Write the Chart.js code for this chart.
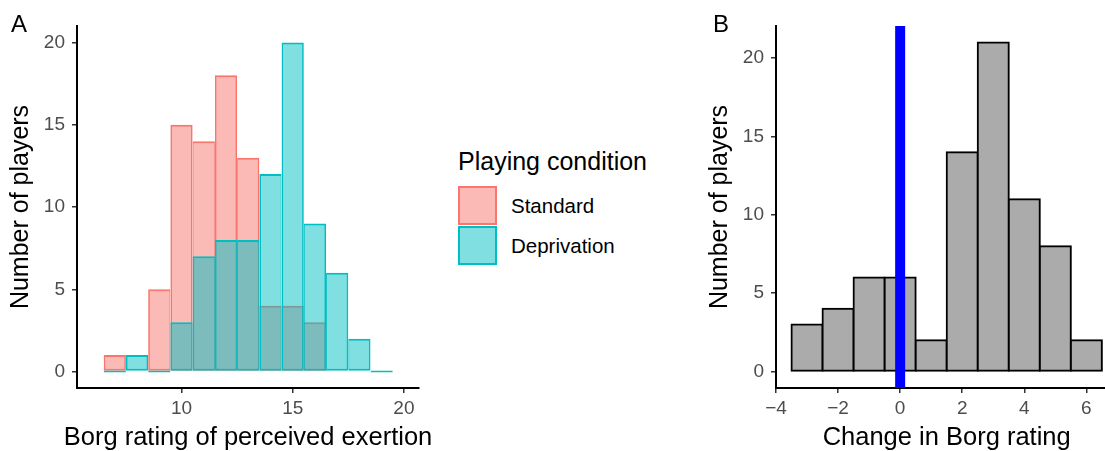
<!DOCTYPE html>
<html><head><meta charset="utf-8">
<script src="https://cdn.jsdelivr.net/npm/chart.js@4.4.1/dist/chart.umd.min.js"></script>
<style>
html,body{margin:0;padding:0;overflow:hidden;background:#fff;width:1105px;height:451px;}
body{position:relative;font-family:'Liberation Sans',Arial,Helvetica,sans-serif;}
canvas{position:absolute;top:0;}
#cA{left:0;}
#cB{left:700px;}
.lbl{position:absolute;white-space:nowrap;color:#000;}
.key{position:absolute;box-sizing:border-box;border:2px solid;}
</style></head><body>
<canvas id="cA" width="440" height="451" style="width:440px;height:451px"></canvas>
<canvas id="cB" width="430" height="451" style="width:430px;height:451px"></canvas>
<div class="lbl" style="left:11px;top:10px;font-size:24px;line-height:28px">A</div>
<div class="lbl" style="left:713px;top:10px;font-size:24px;line-height:28px">B</div>
<div id="legend"></div>
<script>
// ---- Data ----
const borgBins = [7, 8, 9, 10, 11, 12, 13, 14, 15, 16, 17, 18, 19];
const standardCounts = [1, 0, 5, 15, 14, 18, 13, 4, 4, 3, 0, 0, 0];
const deprivationCounts = [0, 1, 0, 3, 7, 8, 8, 12, 20, 9, 6, 2, 0];
const seriesNames = ['Standard', 'Deprivation'];
const legendTitle = 'Playing condition';
const changeBins = [-3, -2, -1, 0, 1, 2, 3, 4, 5, 6];
const changeCounts = [3, 4, 6, 6, 2, 14, 21, 11, 8, 2];
const refLineX = [0, 0];
const refLineY = [-1.05, 22.05];
const xTicksA = [10, 15, 20];
const yTicksA = [0, 5, 10, 15, 20];
const xTicksB = [-4, -2, 0, 2, 4, 6];
const yTicksB = [0, 5, 10, 15, 20];
const xTitleA = 'Borg rating of perceived exertion';
const xTitleB = 'Change in Borg rating';
const yTitle = 'Number of players';

// ---- Styles ----
const FONT = "'Liberation Sans', Arial, Helvetica, sans-serif";
Chart.defaults.font.family = FONT;
const seriesFill = ['rgba(248,118,109,0.5)', 'rgba(0,191,196,0.5)'];
const seriesLine = ['#F8766D', '#00BFC4'];
const minus = v => (v < 0 ? '\u2212' + Math.abs(v) : String(v));

function axisCommon(ticksArr, fit, fmt, pad) {
  return {
    type: 'linear',
    offset: false,
    afterBuildTicks: s => { s.ticks = ticksArr.map(v => ({ value: v })); },
    afterFit: fit,
    grid: { display: true, drawOnChartArea: false, drawTicks: true, tickLength: 5, color: '#333333', lineWidth: 1.5, offset: false },
    border: { display: true, color: '#000000', width: 2 },
    ticks: { color: '#4D4D4D', font: { size: 19 }, padding: pad, maxRotation: 0, autoSkip: false, callback: fmt }
  };
}

// x-axis title drawn centred under the panel without width squeezing
function xTitlePlugin(text) {
  return {
    id: 'xTitle',
    afterDraw(chart) {
      const { ctx, chartArea } = chart;
      ctx.save();
      ctx.font = `25.5px ${FONT}`;
      ctx.fillStyle = '#000';
      ctx.textAlign = 'center';
      ctx.textBaseline = 'alphabetic';
      ctx.fillText(text, (chartArea.left + chartArea.right) / 2, 445);
      ctx.restore();
    }
  };
}

// ---- Panel A ----
const xA = axisCommon(xTicksA, s => { s.height = 63; }, v => minus(v), 4);
xA.min = 5.3; xA.max = 20.68;
const yA = axisCommon(yTicksA, s => { s.width = 77; }, v => minus(v), 7);
yA.min = -1; yA.max = 21;
yA.title = { display: true, text: yTitle, color: '#000', font: { size: 25 }, padding: { top: 6, bottom: 0 } };

function sideWidths(counts) {
  return ctx => {
    const i = ctx.dataIndex;
    const v = counts[i];
    const l = i > 0 ? counts[i - 1] : 0;
    const r = i < counts.length - 1 ? counts[i + 1] : 0;
    return { top: 2, bottom: 2, left: l >= v && l > 0 ? 1 : 1.7, right: r >= v && r > 0 ? 1 : 1.7 };
  };
}

const barBase = { barPercentage: 1, categoryPercentage: 1, grouped: false, borderSkipped: false, inflateAmount: 0 };

new Chart(document.getElementById('cA'), {
  type: 'bar',
  data: {
    datasets: [
      Object.assign({}, barBase, { label: seriesNames[0], data: borgBins.map((x, i) => ({ x, y: standardCounts[i] })),
        backgroundColor: seriesFill[0], borderColor: seriesLine[0], borderWidth: sideWidths(standardCounts), order: 1 }),
      Object.assign({}, barBase, { label: seriesNames[1], data: borgBins.map((x, i) => ({ x, y: deprivationCounts[i] })),
        backgroundColor: seriesFill[1], borderColor: seriesLine[1], borderWidth: sideWidths(deprivationCounts), minBarLength: 2, order: 0 })
    ]
  },
  options: {
    responsive: false, animation: false, devicePixelRatio: 1,
    layout: { padding: { left: 0, top: 26, right: 21, bottom: 0 } },
    plugins: { legend: { display: false }, tooltip: { enabled: false } },
    scales: { x: xA, y: yA }
  },
  plugins: [xTitlePlugin(xTitleA)]
});

// ---- Legend (HTML) ----
const leg = document.getElementById('legend');
const t = document.createElement('div');
t.className = 'lbl'; t.style.cssText = 'left:458px;top:145.5px;font-size:25px;line-height:30px';
t.textContent = legendTitle; leg.appendChild(t);
seriesNames.forEach((name, i) => {
  const k = document.createElement('div');
  k.className = 'key';
  k.style.cssText = `left:458px;top:${186 + 40 * i}px;width:39px;height:39px;background:${seriesFill[i]};border-color:${seriesLine[i]}`;
  leg.appendChild(k);
  const l = document.createElement('div');
  l.className = 'lbl';
  l.style.cssText = `left:511px;top:${194.2 + 40 * i}px;font-size:20.5px;line-height:24px`;
  l.textContent = name; leg.appendChild(l);
});

// ---- Panel B ----
const xB = axisCommon(xTicksB, s => { s.height = 63; }, v => minus(v), 4);
xB.min = -4; xB.max = 7;
const yB = axisCommon(yTicksB, s => { s.width = 76; }, v => minus(v), 7);
yB.min = -1.05; yB.max = 22.05;
yB.title = { display: true, text: yTitle, color: '#000', font: { size: 25 }, padding: { top: 5, bottom: 0 } };

new Chart(document.getElementById('cB'), {
  type: 'bar',
  data: {
    datasets: [
      { type: 'bar', label: 'Change', data: changeBins.map((x, i) => ({ x, y: changeCounts[i] })),
        backgroundColor: '#ABABAB', borderColor: '#000000', borderWidth: 2, borderSkipped: false, inflateAmount: 1,
        barPercentage: 1, categoryPercentage: 1, order: 1 },
      { type: 'line', label: 'Zero', data: refLineX.map((x, i) => ({ x, y: refLineY[i] })),
        borderColor: '#0000FF', borderWidth: 10, pointRadius: 0, fill: false, tension: 0, order: 0 }
    ]
  },
  options: {
    responsive: false, animation: false, devicePixelRatio: 1,
    layout: { padding: { left: 0, top: 26, right: 12.6, bottom: 0 } },
    plugins: { legend: { display: false }, tooltip: { enabled: false } },
    scales: { x: xB, y: yB }
  },
  plugins: [xTitlePlugin(xTitleB)]
});
</script>
</body></html>
